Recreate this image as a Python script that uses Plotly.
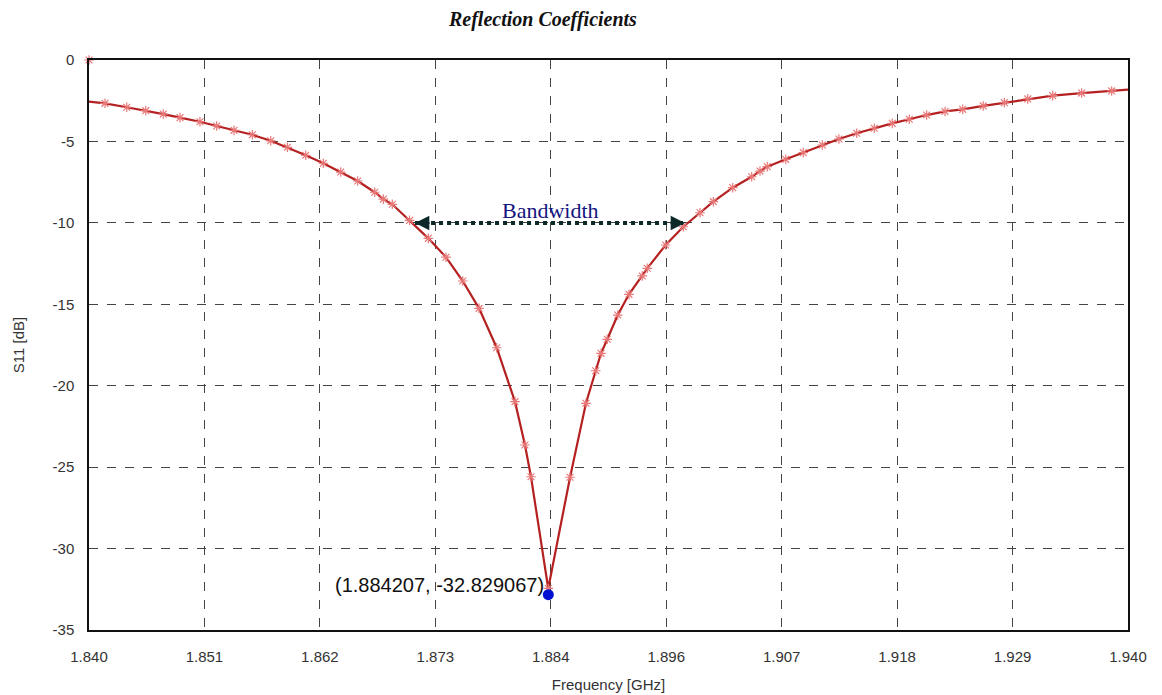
import plotly.graph_objects as go

# ---- data ----
freq = [1.8400, 1.84154, 1.84363, 1.84546, 1.84715, 1.84876, 1.85068, 1.85229,
        1.85396, 1.85572, 1.85749, 1.85909, 1.86086, 1.86255, 1.86423, 1.86586,
        1.86750, 1.86833, 1.86919, 1.87085, 1.87266, 1.87436, 1.87597, 1.87754,
        1.87924, 1.88100, 1.88196, 1.88254, 1.88420,
        1.88630, 1.88783, 1.88877, 1.88928, 1.88988, 1.89089, 1.89197, 1.89325,
        1.89373, 1.89550, 1.89720, 1.89881, 1.90009, 1.90196, 1.90378, 1.90458,
        1.90528, 1.90706, 1.90875, 1.91058, 1.91218, 1.91389, 1.91558, 1.91731,
        1.91895, 1.92062, 1.92239, 1.92409, 1.92607, 1.92810, 1.93035, 1.93275,
        1.93554, 1.93843, 1.9400]
s11 = [-2.56, -2.66, -2.90, -3.11, -3.32, -3.54, -3.79, -4.05,
       -4.32, -4.59, -4.96, -5.36, -5.85, -6.34, -6.88, -7.43,
       -8.12, -8.54, -8.86, -9.85, -10.95, -12.11, -13.57, -15.25,
       -17.67, -20.98, -23.64, -25.59, -32.45,
       -25.62, -21.08, -19.08, -18.01, -17.15, -15.66, -14.39, -13.26,
       -12.79, -11.36, -10.24, -9.38, -8.70, -7.84, -7.17, -6.82,
       -6.55, -6.10, -5.69, -5.22, -4.85, -4.50, -4.19, -3.89,
       -3.64, -3.38, -3.16, -3.03, -2.82, -2.62, -2.39, -2.19,
       -2.03, -1.90, -1.82]

stray_x = [1.840]
stray_y = [0.0]

min_x = [1.884207]
min_y = [-32.829067]
min_label = "(1.884207, -32.829067)"

bw_left = 1.87138
bw_right = 1.89736
bw_level = -10.01
bw_label = "Bandwidth"

x_tickvals = [1.84, 1.851111, 1.862222, 1.873333, 1.884444, 1.895556,
              1.906667, 1.917778, 1.928889, 1.94]
x_ticktext = ["1.840", "1.851", "1.862", "1.873", "1.884", "1.896",
              "1.907", "1.918", "1.929", "1.940"]
y_tickvals = [0, -5, -10, -15, -20, -25, -30, -35]
y_ticktext = ["0", "-5", "-10", "-15", "-20", "-25", "-30", "-35"]

LINE = "#b52020"
MARK = "#e87878"
ARROW = "#0c2828"

fig = go.Figure()

fig.add_trace(go.Scatter(
    x=freq, y=s11, mode="lines",
    line=dict(color=LINE, width=2.2), showlegend=False, hoverinfo="skip"))
fig.add_trace(go.Scatter(
    x=freq[1:-1], y=s11[1:-1], mode="markers",
    marker=dict(symbol="asterisk-open", size=8, color=MARK,
                line=dict(color=MARK, width=1.2)),
    showlegend=False))
fig.add_trace(go.Scatter(
    x=stray_x, y=stray_y, mode="markers",
    marker=dict(symbol="asterisk-open", size=8, color=MARK,
                line=dict(color=MARK, width=1.2)),
    showlegend=False, cliponaxis=False))
fig.add_trace(go.Scatter(
    x=min_x, y=min_y, mode="markers",
    marker=dict(symbol="circle", size=11, color="#0010d0"),
    showlegend=False))

# bandwidth dotted line
fig.add_shape(type="line", x0=bw_left, x1=bw_right, y0=bw_level, y1=bw_level,
              xref="x", yref="y", line=dict(color=ARROW, width=4, dash="dot"))
# arrowheads
fig.add_annotation(x=bw_left, y=bw_level, xref="x", yref="y", ax=16, ay=0,
                   text="", showarrow=True, arrowhead=2, arrowsize=1.3,
                   arrowwidth=2.2, arrowcolor=ARROW)
fig.add_annotation(x=bw_right, y=bw_level, xref="x", yref="y", ax=-16, ay=0,
                   text="", showarrow=True, arrowhead=2, arrowsize=1.3,
                   arrowwidth=2.2, arrowcolor=ARROW)
fig.add_annotation(x=(bw_left + bw_right) / 2, y=bw_level, xref="x", yref="y",
                   yshift=13, text=bw_label, showarrow=False,
                   font=dict(family="Liberation Serif", size=22, color="#141480"))

# min label
fig.add_annotation(x=min_x[0], y=min_y[0], xref="x", yref="y",
                   xanchor="right", yanchor="middle", xshift=-2, yshift=10,
                   text=min_label, showarrow=False,
                   font=dict(family="Liberation Sans", size=20, color="#111111"))

# the page adds an 8 px body margin, so the figure is offset by 8 px
fig.update_layout(
    width=1146, height=687,
    margin=dict(l=81, r=26, t=52, b=65, autoexpand=False),
    paper_bgcolor="white", plot_bgcolor="white",
    title=dict(text="Reflection Coefficients", x=0.4668, xanchor="center",
               xref="container", y=0.984, yanchor="middle",
               font=dict(family="Liberation Serif", size=20, color="#111111",
                         weight="bold", style="italic")),
    font=dict(family="Liberation Sans", color="#333333"),
)

fig.update_xaxes(
    range=[1.84, 1.94], tickvals=x_tickvals, ticktext=x_ticktext,
    showgrid=True, gridcolor="#444444", griddash="dash", gridwidth=1,
    showline=True, linecolor="#111111", linewidth=1.5, mirror=True,
    ticks="outside", ticklen=12, tickcolor="rgba(0,0,0,0)",
    tickfont=dict(size=15, color="#333333"), zeroline=False, automargin=False,
    title=dict(text="Frequency [GHz]", font=dict(size=15, color="#333333"),
               standoff=16),
)
fig.update_yaxes(
    range=[-35, 0], tickvals=y_tickvals, ticktext=y_ticktext,
    showgrid=True, gridcolor="#444444", griddash="dash", gridwidth=1,
    showline=True, linecolor="#111111", linewidth=1.5, mirror=True,
    ticks="outside", ticklen=10, tickcolor="rgba(0,0,0,0)",
    tickfont=dict(size=15, color="#333333"), zeroline=False, automargin=False,
    title=dict(text="S11 [dB]", font=dict(size=15, color="#333333"),
               standoff=24),
)

fig.write_html("out.html")
